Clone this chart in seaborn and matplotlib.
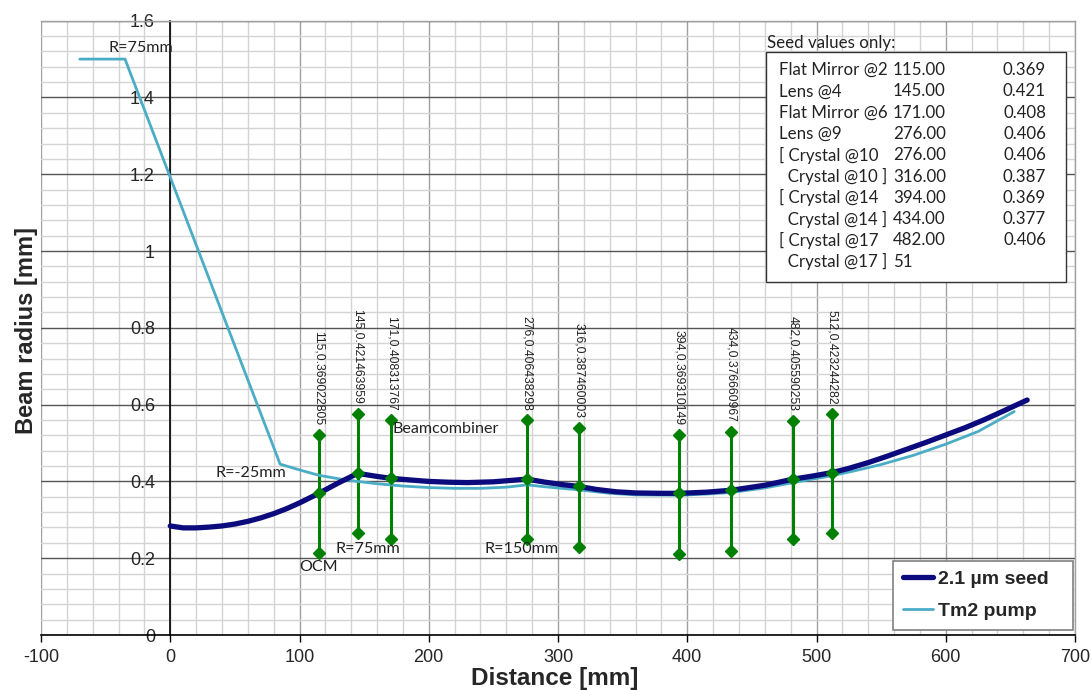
import numpy as np
import pandas as pd
import matplotlib
matplotlib.use("Agg")
import matplotlib.pyplot as plt
from matplotlib.patches import Rectangle
from matplotlib.ticker import MultipleLocator
import seaborn as sns

# ---------------- data ----------------
seed_x = [0, 10, 20, 30, 40, 50, 60, 70, 80, 90, 100, 115, 130, 145, 160, 171, 185, 200, 215,
          230, 250, 265, 276, 290, 305, 316, 330, 345, 360, 380, 394, 415, 434, 460, 482, 497,
          512, 525, 540, 555, 570, 585, 600, 615, 630, 645, 663]
seed_y = [0.284, 0.279, 0.279, 0.281, 0.284, 0.289, 0.296, 0.305, 0.316, 0.329, 0.344, 0.369,
          0.396, 0.421, 0.413, 0.408, 0.404, 0.400, 0.398, 0.397, 0.399, 0.403, 0.406, 0.398,
          0.391, 0.387, 0.379, 0.373, 0.370, 0.369, 0.369, 0.372, 0.377, 0.390, 0.406, 0.414,
          0.423, 0.434, 0.449, 0.466, 0.484, 0.502, 0.521, 0.540, 0.561, 0.584, 0.612]

pump_x = [-70, -35, 85, 100, 115, 130, 145, 160, 180, 200, 220, 240, 260, 276, 290, 316, 340,
          360, 394, 415, 434, 460, 482, 512, 530, 550, 575, 600, 625, 653]
pump_y = [1.50, 1.50, 0.445, 0.430, 0.416, 0.407, 0.400, 0.394, 0.388, 0.384, 0.382, 0.382,
          0.385, 0.391, 0.386, 0.378, 0.369, 0.365, 0.364, 0.367, 0.371, 0.383, 0.397, 0.415,
          0.428, 0.444, 0.468, 0.497, 0.530, 0.582]

err_x = [115, 145, 171, 276, 316, 394, 434, 482, 512]
err_mid = [0.369022805, 0.421463959, 0.408313767, 0.406438298, 0.387460003,
           0.369310149, 0.376660967, 0.405590253, 0.423244282]
err_top = [0.520, 0.575, 0.559, 0.559, 0.538, 0.520, 0.528, 0.557, 0.575]
err_bot = [0.213, 0.265, 0.250, 0.250, 0.230, 0.210, 0.218, 0.250, 0.265]
err_labels = ["115,0.369022805", "145,0.421463959", "171,0.408313767", "276,0.406438298",
              "316,0.387460003", "394,0.369310149", "434,0.376660967", "482,0.405590253",
              "512,0.423244282"]

annot_text = ["R=75mm", "R=-25mm", "OCM", "R=75mm", "Beamcombiner", "R=150mm"]
annot_x = [-48, 35, 100, 128, 172, 243]
annot_y = [1.53, 0.421, 0.177, 0.224, 0.536, 0.224]

table_names = ["Flat Mirror @2", "Lens @4", "Flat Mirror @6", "Lens @9", "[ Crystal @10",
               "  Crystal @10 ]", "[ Crystal @14", "  Crystal @14 ]", "[ Crystal @17",
               "  Crystal @17 ]"]
table_pos = ["115.00", "145.00", "171.00", "276.00", "276.00", "316.00", "394.00", "434.00",
             "482.00", "51"]
table_val = ["0.369", "0.421", "0.408", "0.406", "0.406", "0.387", "0.369", "0.377", "0.406", ""]

series_names = ["2.1 µm seed", "Tm2 pump"]
x_ticks = [-100, 0, 100, 200, 300, 400, 500, 600, 700]
y_ticks = [0, 0.2, 0.4, 0.6, 0.8, 1.0, 1.2, 1.4, 1.6]
y_ticklabels = ["0", "0.2", "0.4", "0.6", "0.8", "1", "1.2", "1.4", "1.6"]

# ---------------- style ----------------
sns.set_style("white")
plt.rcParams['font.family'] = ['Liberation Sans', 'DejaVu Sans']
plt.rcParams['axes.unicode_minus'] = False

W, H = 1092, 690
fig = plt.figure(figsize=(W / 100, H / 100), dpi=100)
ax = fig.add_axes([41 / W, 1 - 635 / H, (1075 - 41) / W, (635 - 20.7) / H])

def fx(px):
    return px / W

def fy(py):
    return 1 - py / H

seed_col = "#0b0b7e"
pump_col = "#4bacc6"
green = "#008000"

df = pd.concat([
    pd.DataFrame({"x": seed_x, "y": seed_y, "s": series_names[0]}),
    pd.DataFrame({"x": pump_x, "y": pump_y, "s": series_names[1]}),
])

ax.set_xlim(-100, 700)
ax.set_ylim(0, 1.6)

# grid
ax.xaxis.set_minor_locator(MultipleLocator(20))
ax.yaxis.set_minor_locator(MultipleLocator(0.04))
ax.set_xticks(x_ticks)
ax.set_yticks(y_ticks)
ax.set_yticklabels(y_ticklabels)
ax.grid(which="minor", color="#d4d4d4", lw=1.0)
ax.xaxis.grid(which="major", color="#a0a0a0", lw=1.0)
ax.yaxis.grid(which="major", color="#555555", lw=1.0)
ax.set_axisbelow(True)

# error bars (green)
for x, m, t, b in zip(err_x, err_mid, err_top, err_bot):
    ax.plot([x, x], [b, t], color=green, lw=2.2, zorder=3)
    ax.plot([x, x], [b, t], ls="none", marker="D", ms=6, color=green, zorder=6)

sns.lineplot(data=df[df.s == series_names[1]], x="x", y="y", color=pump_col, lw=2.0,
             ax=ax, sort=False, label=series_names[1], zorder=4)
sns.lineplot(data=df[df.s == series_names[0]], x="x", y="y", color=seed_col, lw=3.8,
             ax=ax, sort=False, label=series_names[0], zorder=5)
for ln in ax.get_lines()[-2:]:
    ln.set_solid_joinstyle("round")
    ln.set_solid_capstyle("round")
for x, m in zip(err_x, err_mid):
    ax.plot([x], [m], ls="none", marker="D", ms=6, color=green, zorder=6)

for x, t, lab in zip(err_x, err_top, err_labels):
    ax.text(x, t + 0.026, lab, rotation=270, ha="center", va="bottom", fontsize=8.7,
            color="#222222", zorder=7)

for t, x, y in zip(annot_text, annot_x, annot_y):
    ax.text(x, y, t, ha="left", va="center", fontsize=11.6, family=["Lato", "DejaVu Sans"],
            color="#222222", zorder=7)

# spines
for s in ["top", "right"]:
    ax.spines[s].set_color("#a0a0a0")
    ax.spines[s].set_linewidth(1.0)
ax.spines["left"].set_position(("data", 0))
ax.spines["left"].set_color("black")
ax.spines["left"].set_linewidth(1.2)
ax.spines["bottom"].set_color("black")
ax.spines["bottom"].set_linewidth(1.2)

ax.tick_params(axis="x", which="major", direction="out", length=5, width=1, color="black",
               labelsize=13, pad=5, bottom=True)
ax.tick_params(axis="x", which="minor", length=0)
ax.tick_params(axis="y", which="both", length=0, labelsize=13, pad=11)

ax.set_xlabel("")
ax.set_ylabel("")
fig.text(fx(555), fy(678), "Distance [mm]", ha="center", va="center",
         fontsize=17.5, fontweight="bold")
fig.text(fx(27), fy(330), "Beam radius [mm]", rotation=90, ha="center", va="center",
         fontsize=17, fontweight="bold")

# legend
handles, labels = ax.get_legend_handles_labels()
order = [labels.index(series_names[0]), labels.index(series_names[1])]
leg = ax.legend([handles[i] for i in order], [labels[i] for i in order],
                loc="lower left", mode="expand",
                bbox_to_anchor=(fx(893), fy(630), 180 / W, 78 / H),
                bbox_transform=fig.transFigure, frameon=True, fancybox=False,
                prop={"weight": "bold", "size": 14}, handlelength=1.55, handletextpad=0.25,
                labelspacing=0.75, borderpad=0.5, borderaxespad=0)
leg.get_frame().set_edgecolor("#808080")
leg.get_frame().set_linewidth(1.2)
leg.get_frame().set_facecolor("white")
leg.get_frame().set_alpha(1)
leg.set_zorder(10)

# table box
fig.patches.append(Rectangle((fx(766), fy(282)), (1066 - 766) / W, (282 - 52) / H,
                             transform=fig.transFigure, facecolor="white",
                             edgecolor="#333333", lw=1.0, zorder=9))
tfont = dict(fontsize=12.2, family=["Lato", "DejaVu Sans"], color="#222222", zorder=11)
fig.text(fx(767), fy(43), "Seed values only:", ha="left", va="center", **tfont)
for i, (n, p, v) in enumerate(zip(table_names, table_pos, table_val)):
    yy = fy(70 + i * 21.3)
    fig.text(fx(779), yy, n, ha="left", va="center", **tfont)
    fig.text(fx(893), yy, p, ha="left", va="center", **tfont)
    if v:
        fig.text(fx(1046), yy, v, ha="right", va="center", **tfont)

fig.savefig("out.png", dpi=100)
